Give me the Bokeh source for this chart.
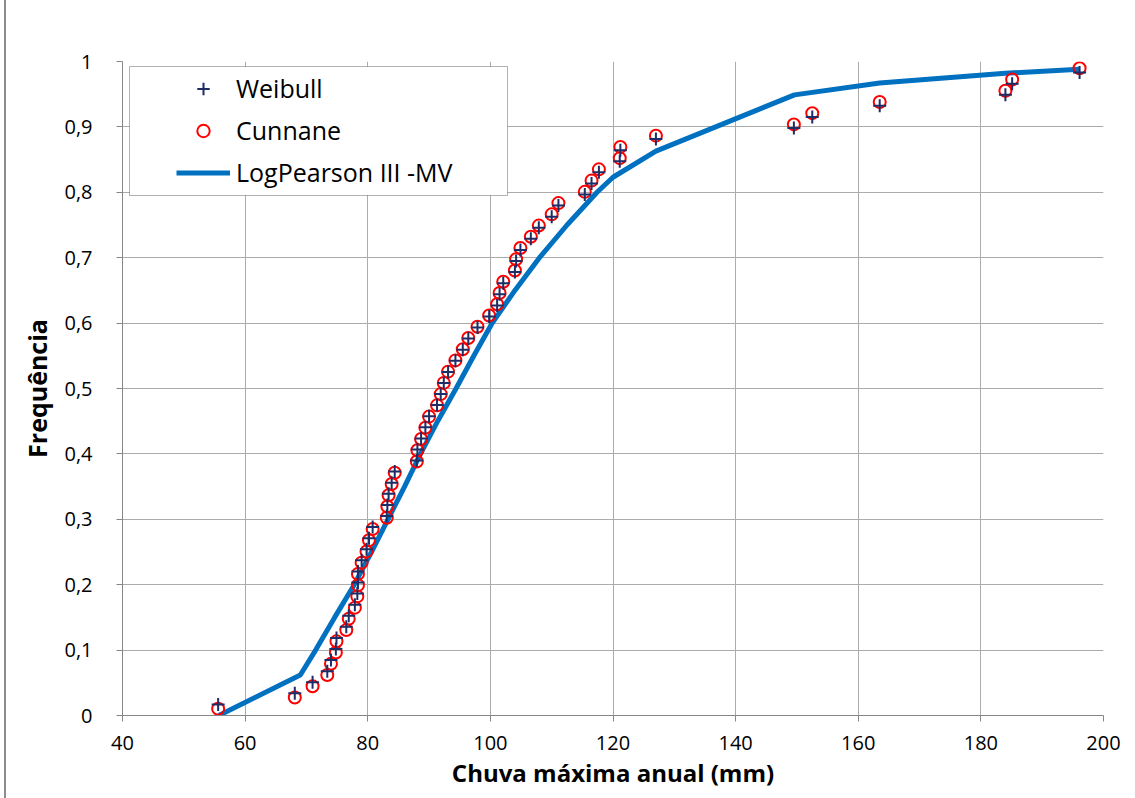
from bokeh.plotting import figure
from bokeh.models import (Range1d, FixedTicker, CustomJSTickFormatter, Legend,
                          LegendItem, BoxAnnotation, ColumnDataSource)
from bokeh.embed import file_html
from bokeh.resources import INLINE

# ---- data ----
chuva = [55.6, 68.1, 71.0, 73.4, 74.0, 74.8, 74.9, 76.5, 76.9, 77.9,
         78.3, 78.4, 78.4, 79.0, 79.8, 80.2, 80.8, 83.1, 83.2, 83.4,
         83.9, 84.4, 88.0, 88.1, 88.7, 89.4, 90.0, 91.3, 91.9, 92.4,
         93.1, 94.3, 95.5, 96.4, 97.9, 99.8, 101.1, 101.5, 102.1, 104.0,
         104.2, 104.9, 106.6, 107.9, 110.0, 111.1, 115.4, 116.5, 117.7, 121.1,
         121.2, 127.0, 149.5, 152.5, 163.5, 184.0, 185.1, 196.1]

weibull = [0.0169, 0.0339, 0.0508, 0.0678, 0.0847, 0.1017, 0.1186, 0.1356, 0.1525, 0.1695,
           0.1864, 0.2034, 0.2203, 0.2373, 0.2542, 0.2712, 0.2881, 0.3051, 0.3220, 0.3390,
           0.3559, 0.3729, 0.3898, 0.4068, 0.4237, 0.4407, 0.4576, 0.4746, 0.4915, 0.5085,
           0.5254, 0.5424, 0.5593, 0.5763, 0.5932, 0.6102, 0.6271, 0.6441, 0.6610, 0.6780,
           0.6949, 0.7119, 0.7288, 0.7458, 0.7627, 0.7797, 0.7966, 0.8136, 0.8305, 0.8475,
           0.8644, 0.8814, 0.8983, 0.9153, 0.9322, 0.9492, 0.9661, 0.9831]

cunnane = [0.0103, 0.0275, 0.0447, 0.0619, 0.0790, 0.0962, 0.1134, 0.1306, 0.1478, 0.1649,
           0.1821, 0.1993, 0.2165, 0.2337, 0.2509, 0.2680, 0.2852, 0.3024, 0.3196, 0.3368,
           0.3540, 0.3711, 0.3883, 0.4055, 0.4227, 0.4399, 0.4570, 0.4742, 0.4914, 0.5086,
           0.5258, 0.5430, 0.5601, 0.5773, 0.5945, 0.6117, 0.6289, 0.6460, 0.6632, 0.6804,
           0.6976, 0.7148, 0.7320, 0.7491, 0.7663, 0.7835, 0.8007, 0.8179, 0.8351, 0.8522,
           0.8694, 0.8866, 0.9038, 0.9210, 0.9381, 0.9553, 0.9725, 0.9897]

lp_x = [55.7, 69.0, 71.5, 74.6, 77.8, 80.6, 83.3, 86.0, 88.6, 91.4,
        94.4, 97.3, 100.3, 104.0, 108.0, 112.5, 117.4, 120.0, 127.0, 149.6,
        163.5, 184.0, 196.1]
lp_y = [0.0, 0.062, 0.100, 0.150, 0.200, 0.250, 0.300, 0.350, 0.400, 0.450,
        0.500, 0.550, 0.600, 0.650, 0.700, 0.750, 0.800, 0.823, 0.863, 0.949,
        0.967, 0.982, 0.988]

x_ticks = [40, 60, 80, 100, 120, 140, 160, 180, 200]
y_ticks = [0, 0.1, 0.2, 0.3, 0.4, 0.5, 0.6, 0.7, 0.8, 0.9, 1.0]

pts = ColumnDataSource(dict(x=chuva, w=weibull, c=cunnane))
lp = ColumnDataSource(dict(x=lp_x, y=lp_y))

p = figure(width=1129, height=798, output_backend="svg", toolbar_location=None,
           x_range=Range1d(40, 200), y_range=Range1d(0, 1),
           min_border_left=116, min_border_right=32, min_border_top=61,
           min_border_bottom=83, background_fill_color="white",
           border_fill_color="white")
p.outline_line_color = None
p.styles = {"border-left": "2px solid #8C8C8C", "margin-left": "4px"}

FONT = "Open Sans"
GRID = "#ABABAB"
AX = "#868686"

p.xaxis.ticker = FixedTicker(ticks=x_ticks)
p.yaxis.ticker = FixedTicker(ticks=y_ticks)
p.yaxis.formatter = CustomJSTickFormatter(code="""
if (Math.abs(tick) < 1e-9) return '0';
if (Math.abs(tick - 1) < 1e-9) return '1';
return tick.toFixed(1).replace('.', ',');
""")

for ax in (p.xaxis[0], p.yaxis[0]):
    ax.axis_line_color = AX
    ax.axis_line_width = 1
    ax.major_tick_line_color = AX
    ax.major_tick_out = 6
    ax.major_tick_in = 0
    ax.minor_tick_line_color = None
    ax.major_label_text_font = FONT
    ax.major_label_text_font_size = "20px"
    ax.major_label_text_color = "#000000"
    ax.axis_label_text_font = FONT
    ax.axis_label_text_font_style = "bold"
    ax.axis_label_text_color = "#000000"

p.xaxis.axis_label_text_font_size = "24px"
p.yaxis.axis_label_text_font_size = "25px"
p.xaxis.axis_label = "Chuva máxima anual (mm)"
p.yaxis.axis_label = "Frequência"
p.xaxis.major_label_standoff = 14
p.xaxis.axis_label_standoff = 3
p.yaxis.major_label_standoff = 24
p.yaxis.axis_label_standoff = 7

p.xgrid.grid_line_color = GRID
p.ygrid.grid_line_color = GRID
p.xgrid.grid_line_width = 1
p.ygrid.grid_line_width = 1

r_lp = p.line("x", "y", source=lp, line_color="#0070C0", line_width=5)
r_c = p.scatter("x", "c", source=pts, marker="circle", size=12,
                fill_color=None, line_color="#FF0000", line_width=2)
r_w = p.scatter("x", "w", source=pts, marker="cross", size=13,
                line_color="#1F2D66", line_width=2)

legend_box = BoxAnnotation(left=121, right=499, top=66, bottom=195,
                           left_units="canvas", right_units="canvas",
                           top_units="canvas", bottom_units="canvas",
                           fill_color="white", fill_alpha=1,
                           line_color="#000000", line_width=1)
p.add_layout(legend_box)

legend = Legend(items=[LegendItem(label="Weibull", renderers=[r_w]),
                       LegendItem(label="Cunnane", renderers=[r_c]),
                       LegendItem(label="LogPearson III -MV", renderers=[r_lp])],
                location=(42, 514), padding=12, spacing=8, margin=0,
                label_height=31, glyph_height=31, glyph_width=54,
                label_standoff=6,
                border_line_alpha=0, background_fill_alpha=0,
                label_text_font=FONT, label_text_font_size="25px",
                label_text_color="#000000")
p.add_layout(legend)

open("out.html", "w").write(file_html(p, INLINE))
